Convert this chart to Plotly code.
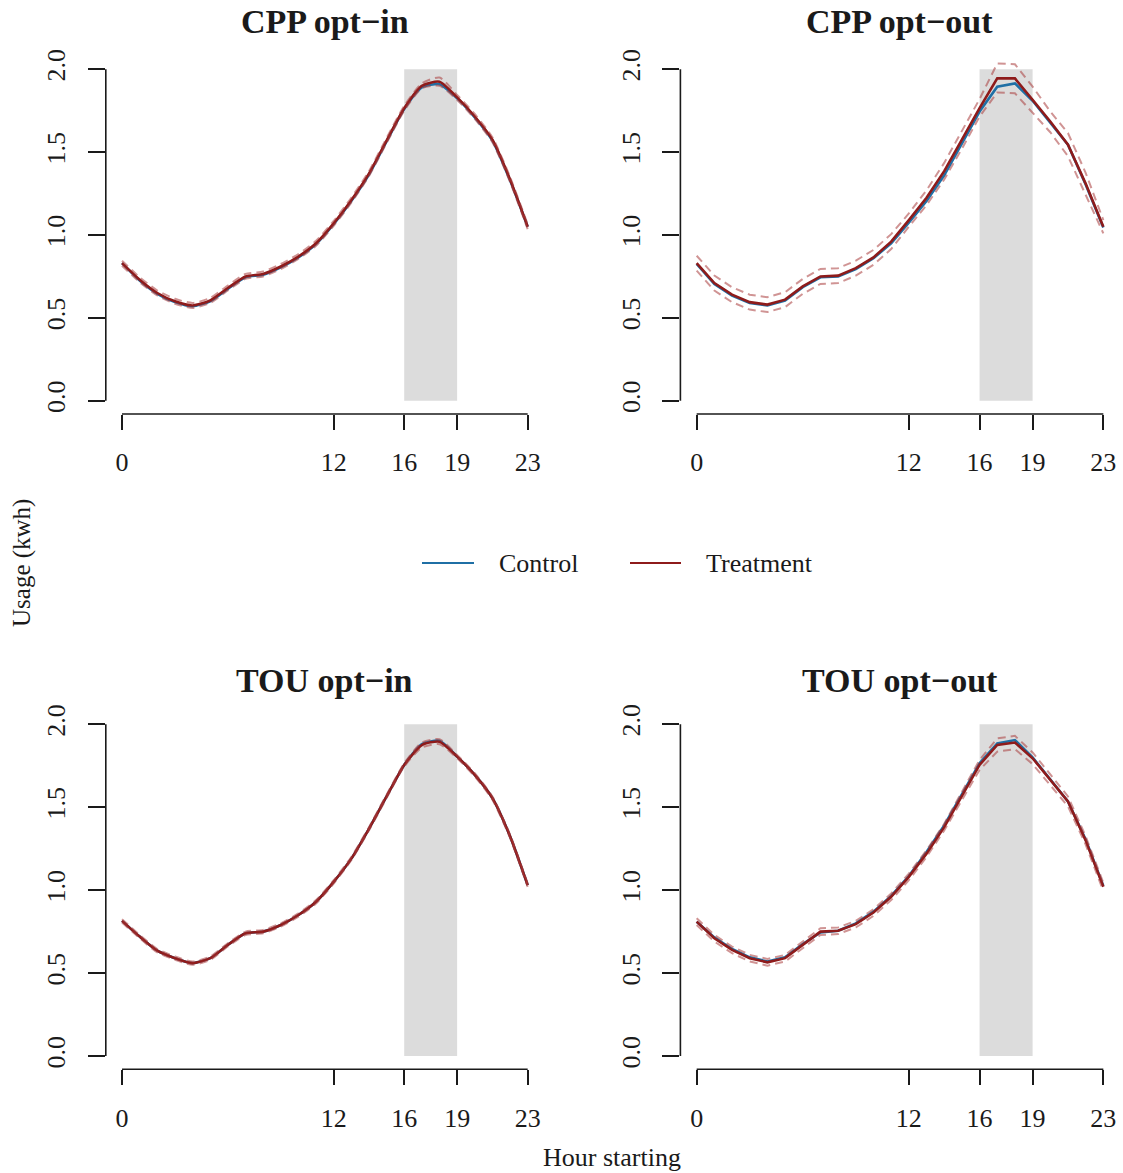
import plotly.graph_objects as go

# ---------------- data ----------------
hours = list(range(24))
x_tick_vals = [0, 12, 16, 19, 23]
y_tick_vals = [0.0, 0.5, 1.0, 1.5, 2.0]
y_tick_text = ["0.0", "0.5", "1.0", "1.5", "2.0"]
peak_start, peak_end = 16, 19
panel_titles = ["CPP opt\u2212in", "CPP opt\u2212out", "TOU opt\u2212in", "TOU opt\u2212out"]

# CPP opt-in
cpp_in_control = [0.83, 0.725, 0.645, 0.595, 0.57, 0.60, 0.675, 0.745, 0.76, 0.805, 0.865, 0.945,
                  1.065, 1.205, 1.365, 1.565, 1.76, 1.89, 1.91, 1.825, 1.71, 1.57, 1.33, 1.05]
cpp_in_treat = [0.83, 0.73, 0.65, 0.60, 0.575, 0.605, 0.68, 0.75, 0.765, 0.81, 0.87, 0.95,
                1.07, 1.21, 1.37, 1.57, 1.765, 1.90, 1.925, 1.83, 1.715, 1.575, 1.335, 1.05]
cpp_in_upper = [0.845, 0.745, 0.665, 0.615, 0.59, 0.62, 0.695, 0.765, 0.78, 0.825, 0.885, 0.965,
                1.085, 1.225, 1.385, 1.585, 1.78, 1.915, 1.95, 1.845, 1.73, 1.59, 1.35, 1.065]
cpp_in_lower = [0.815, 0.715, 0.635, 0.585, 0.56, 0.59, 0.665, 0.735, 0.75, 0.795, 0.855, 0.935,
                1.055, 1.195, 1.355, 1.555, 1.75, 1.885, 1.90, 1.815, 1.70, 1.56, 1.32, 1.035]

# CPP opt-out
cpp_out_control = [0.825, 0.705, 0.635, 0.59, 0.575, 0.605, 0.685, 0.745, 0.75, 0.795, 0.86, 0.95,
                   1.075, 1.205, 1.36, 1.55, 1.745, 1.895, 1.915, 1.81, 1.68, 1.545, 1.305, 1.045]
cpp_out_treat = [0.83, 0.71, 0.64, 0.595, 0.58, 0.61, 0.69, 0.75, 0.755, 0.80, 0.865, 0.96,
                 1.09, 1.225, 1.385, 1.575, 1.765, 1.945, 1.945, 1.815, 1.685, 1.545, 1.31, 1.05]
cpp_out_upper = [0.875, 0.755, 0.685, 0.64, 0.625, 0.655, 0.735, 0.795, 0.80, 0.845, 0.91, 1.005,
                 1.13, 1.27, 1.435, 1.63, 1.82, 2.035, 2.03, 1.895, 1.745, 1.615, 1.375, 1.09]
cpp_out_lower = [0.785, 0.665, 0.595, 0.55, 0.535, 0.565, 0.645, 0.705, 0.71, 0.755, 0.82, 0.915,
                 1.05, 1.18, 1.335, 1.52, 1.715, 1.86, 1.855, 1.735, 1.62, 1.475, 1.245, 1.01]

# TOU opt-in
tou_in_control = [0.815, 0.72, 0.635, 0.59, 0.56, 0.59, 0.67, 0.74, 0.75, 0.79, 0.85, 0.93,
                  1.05, 1.19, 1.37, 1.565, 1.755, 1.88, 1.90, 1.805, 1.695, 1.555, 1.325, 1.03]
tou_in_treat = [0.815, 0.72, 0.635, 0.59, 0.56, 0.59, 0.67, 0.74, 0.75, 0.79, 0.85, 0.93,
                1.05, 1.19, 1.37, 1.565, 1.755, 1.875, 1.895, 1.805, 1.695, 1.555, 1.325, 1.03]
tou_in_upper = [0.825, 0.73, 0.645, 0.60, 0.57, 0.60, 0.68, 0.75, 0.76, 0.80, 0.86, 0.94,
                1.06, 1.20, 1.38, 1.575, 1.765, 1.89, 1.91, 1.815, 1.705, 1.565, 1.335, 1.04]
tou_in_lower = [0.805, 0.71, 0.625, 0.58, 0.55, 0.58, 0.66, 0.73, 0.74, 0.78, 0.84, 0.92,
                1.04, 1.18, 1.36, 1.555, 1.745, 1.86, 1.88, 1.795, 1.685, 1.545, 1.315, 1.02]

# TOU opt-out
tou_out_control = [0.81, 0.715, 0.645, 0.595, 0.57, 0.595, 0.675, 0.745, 0.755, 0.80, 0.87, 0.965,
                   1.085, 1.23, 1.39, 1.58, 1.765, 1.885, 1.905, 1.80, 1.67, 1.535, 1.305, 1.025]
tou_out_treat = [0.81, 0.71, 0.64, 0.59, 0.565, 0.59, 0.67, 0.75, 0.755, 0.795, 0.865, 0.96,
                 1.08, 1.22, 1.38, 1.57, 1.755, 1.875, 1.89, 1.795, 1.665, 1.535, 1.30, 1.02]
tou_out_upper = [0.83, 0.73, 0.66, 0.61, 0.585, 0.61, 0.69, 0.77, 0.775, 0.815, 0.885, 0.98,
                 1.10, 1.24, 1.40, 1.595, 1.785, 1.915, 1.93, 1.83, 1.70, 1.565, 1.325, 1.045]
tou_out_lower = [0.79, 0.69, 0.62, 0.57, 0.545, 0.57, 0.65, 0.73, 0.735, 0.775, 0.845, 0.94,
                 1.06, 1.20, 1.36, 1.545, 1.725, 1.835, 1.85, 1.76, 1.63, 1.505, 1.275, 0.995]

panels = [
    (cpp_in_control, cpp_in_treat, cpp_in_upper, cpp_in_lower, "spline"),
    (cpp_out_control, cpp_out_treat, cpp_out_upper, cpp_out_lower, "linear"),
    (tou_in_control, tou_in_treat, tou_in_upper, tou_in_lower, "spline"),
    (tou_out_control, tou_out_treat, tou_out_upper, tou_out_lower, "linear"),
]

# ---------------- style ----------------
W, H = 1123, 1173
FONT = "Liberation Serif, Times New Roman, serif"
INK = "#1a1a1a"
C_CONTROL = "#1f6fa5"
C_TREAT = "#8e1b1b"
C_CI = "rgba(170,60,60,0.55)"
BAND = "#dcdcdc"

x_domains = [(105.8 / W, 543.9 / W), (680.4 / W, 1119.6 / W)]
y_domains = [((H - 414) / H, (H - 56) / H), ((H - 1069.3) / H, (H - 711) / H)]

fig = go.Figure()
layout = dict(
    width=W, height=H,
    margin=dict(l=0, r=0, t=0, b=0, autoexpand=False),
    paper_bgcolor="white", plot_bgcolor="white",
    showlegend=False,
    font=dict(family=FONT, color=INK, size=26),
)
shapes = []
annotations = []

for i, (ctrl, trt, up, lo, shp) in enumerate(panels):
    n = i + 1
    xa = "x" if n == 1 else f"x{n}"
    ya = "y" if n == 1 else f"y{n}"
    xd = x_domains[i % 2]
    yd = y_domains[i // 2]
    layout["xaxis" if n == 1 else f"xaxis{n}"] = dict(
        domain=list(xd), anchor=ya, range=[-0.92, 23.92],
        tickmode="array", tickvals=x_tick_vals,
        ticks="outside", ticklen=15, tickwidth=1.6, tickcolor=INK,
        showline=False, showgrid=False, zeroline=False, automargin=False,
        tickfont=dict(family=FONT, size=26, color=INK),
        ticklabelstandoff=10, fixedrange=True,
    )
    layout["yaxis" if n == 1 else f"yaxis{n}"] = dict(
        domain=list(yd), anchor=xa, range=[-0.08, 2.08],
        tickmode="array", tickvals=y_tick_vals, ticktext=y_tick_text,
        tickangle=-90,
        ticks="outside", ticklen=17, tickwidth=1.6, tickcolor=INK,
        showline=False, showgrid=False, zeroline=False, automargin=False,
        tickfont=dict(family=FONT, size=26, color=INK),
        ticklabelstandoff=12, fixedrange=True,
    )
    # peak-period band
    shapes.append(dict(type="rect", xref=xa, yref=ya, x0=peak_start, x1=peak_end,
                       y0=0, y1=2, fillcolor=BAND, line=dict(width=0), layer="below"))
    # R-style detached axis lines
    shapes.append(dict(type="line", xref=f"{xa} domain", yref=ya, x0=0, x1=0, y0=0, y1=2,
                       line=dict(color=INK, width=1.6)))
    shapes.append(dict(type="line", xref=xa, yref=f"{ya} domain", x0=0, x1=23, y0=0, y1=0,
                       line=dict(color=INK, width=1.6)))

    line_kw = dict(shape=shp, smoothing=0.6) if shp == "spline" else dict(shape="linear")
    fig.add_trace(go.Scatter(x=hours, y=ctrl, mode="lines", xaxis=xa, yaxis=ya,
                             line=dict(color=C_CONTROL, width=2.6, **line_kw), name="Control"))
    fig.add_trace(go.Scatter(x=hours, y=trt, mode="lines", xaxis=xa, yaxis=ya,
                             line=dict(color=C_TREAT, width=2.6, **line_kw), name="Treatment"))
    for band in (up, lo):
        fig.add_trace(go.Scatter(x=hours, y=band, mode="lines", xaxis=xa, yaxis=ya,
                                 line=dict(color=C_CI, width=2, dash="8px,5px", **line_kw),
                                 hoverinfo="skip"))
    # panel title
    annotations.append(dict(text=f"<b>{panel_titles[i]}</b>", xref="paper", yref="paper",
                            x=(xd[0] + xd[1]) / 2, y=(H - 22) / H if i < 2 else (H - 680) / H,
                            xanchor="center", yanchor="middle", showarrow=False,
                            font=dict(family=FONT, size=34, color=INK)))

# legend (manual, centred between rows)
leg_y = (H - 563) / H
legend_items = [("Control", C_CONTROL, 422, 474, 497), ("Treatment", C_TREAT, 630, 681, 704)]
for label, col, lx0, lx1, tx in legend_items:
    shapes.append(dict(type="line", xref="paper", yref="paper", x0=lx0 / W, x1=lx1 / W,
                       y0=leg_y, y1=leg_y, line=dict(color=col, width=2.2)))
    annotations.append(dict(text=label, xref="paper", yref="paper", x=tx / W, y=leg_y,
                            xanchor="left", yanchor="middle", showarrow=False,
                            font=dict(family=FONT, size=26, color=INK)))

# axis titles
annotations.append(dict(text="Usage (kwh)", xref="paper", yref="paper", x=22 / W, y=(H - 563) / H,
                        textangle=-90, xanchor="center", yanchor="middle", showarrow=False,
                        font=dict(family=FONT, size=25, color=INK)))
annotations.append(dict(text="Hour starting", xref="paper", yref="paper", x=612 / W, y=(H - 1157) / H,
                        xanchor="center", yanchor="middle", showarrow=False,
                        font=dict(family=FONT, size=26, color=INK)))

layout["shapes"] = shapes
layout["annotations"] = annotations
fig.update_layout(**layout)
fig.write_html("out.html", config={"displayModeBar": False},
               post_script="document.body.style.margin='0';document.body.style.overflow='hidden';")
